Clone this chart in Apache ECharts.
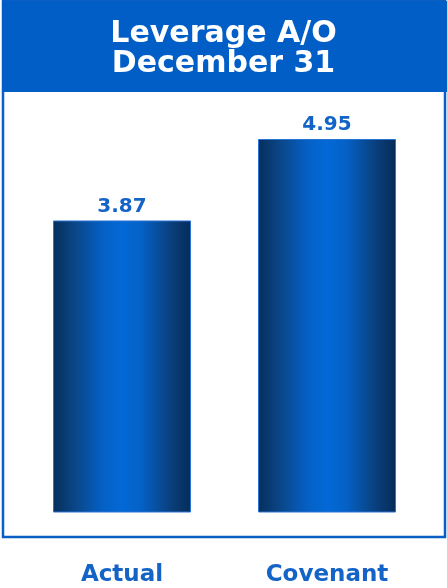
<!DOCTYPE html>
<html>
<head>
<meta charset="utf-8">
<style>
  html, body { margin: 0; padding: 0; background: #ffffff; }
  #chart { width: 447px; height: 588px; }
</style>
<script src="https://cdn.jsdelivr.net/npm/echarts@6/dist/echarts.min.js"></script>
</head>
<body>
<div id="chart"></div>
<script>
// Leverage ratio: actual vs covenant limit
const categories = ['Actual', 'Covenant'];
const leverageValues = [3.87, 4.95];
const titleLines = ['Leverage A/O', 'December 31'];

const FONT = '"DejaVu Sans", Verdana, sans-serif';
const BLUE = '#0a5fc4';
const TEXT_BLUE = '#1463c6';

const chart = echarts.init(document.getElementById('chart'), null, { renderer: 'canvas' });

// Horizontal cylinder-like shading on each bar
const barGradient = new echarts.graphic.LinearGradient(0, 0, 1, 0, [
  { offset: 0, color: '#062e5c' },
  { offset: 0.15, color: '#0a4584' },
  { offset: 0.36, color: '#0560c6' },
  { offset: 0.5, color: '#0369d6' },
  { offset: 0.64, color: '#0561c6' },
  { offset: 0.86, color: '#0a3e7a' },
  { offset: 1, color: '#062c58' }
]);

chart.setOption({
  backgroundColor: '#ffffff',
  animation: false,
  graphic: [
    {
      type: 'rect',
      shape: { x: 3, y: 1, width: 442, height: 536 },
      style: { fill: 'none', stroke: BLUE, lineWidth: 2.5 },
      z: 0
    },
    {
      type: 'rect',
      shape: { x: 2, y: 1, width: 445, height: 91 },
      style: { fill: '#005ec6' },
      z: 1
    }
  ],
  title: {
    text: titleLines.join('\n'),
    left: 'center',
    top: 14,
    z: 10,
    textStyle: {
      color: '#ffffff',
      fontFamily: FONT,
      fontWeight: 'bold',
      fontSize: 30,
      lineHeight: 30
    }
  },
  grid: {
    left: 19.5,
    right: 17.5,
    top: 97.5,
    bottom: 75.5,
    containLabel: false
  },
  xAxis: {
    type: 'category',
    data: categories,
    axisLine: { show: false },
    axisTick: { show: false },
    axisLabel: {
      margin: 51,
      color: TEXT_BLUE,
      fontFamily: FONT,
      fontWeight: 'bold',
      fontSize: 23
    }
  },
  yAxis: {
    type: 'value',
    min: 0,
    max: 5.5,
    show: false,
    splitLine: { show: false }
  },
  series: [
    {
      type: 'bar',
      data: leverageValues,
      barWidth: 138,
      itemStyle: {
        color: barGradient,
        borderColor: '#2a74d6',
        borderWidth: 1
      },
      label: {
        show: true,
        position: 'top',
        distance: 4,
        formatter: (p) => p.value.toFixed(2),
        color: TEXT_BLUE,
        fontFamily: FONT,
        fontWeight: 'bold',
        fontSize: 20
      }
    }
  ]
});
</script>
</body>
</html>
